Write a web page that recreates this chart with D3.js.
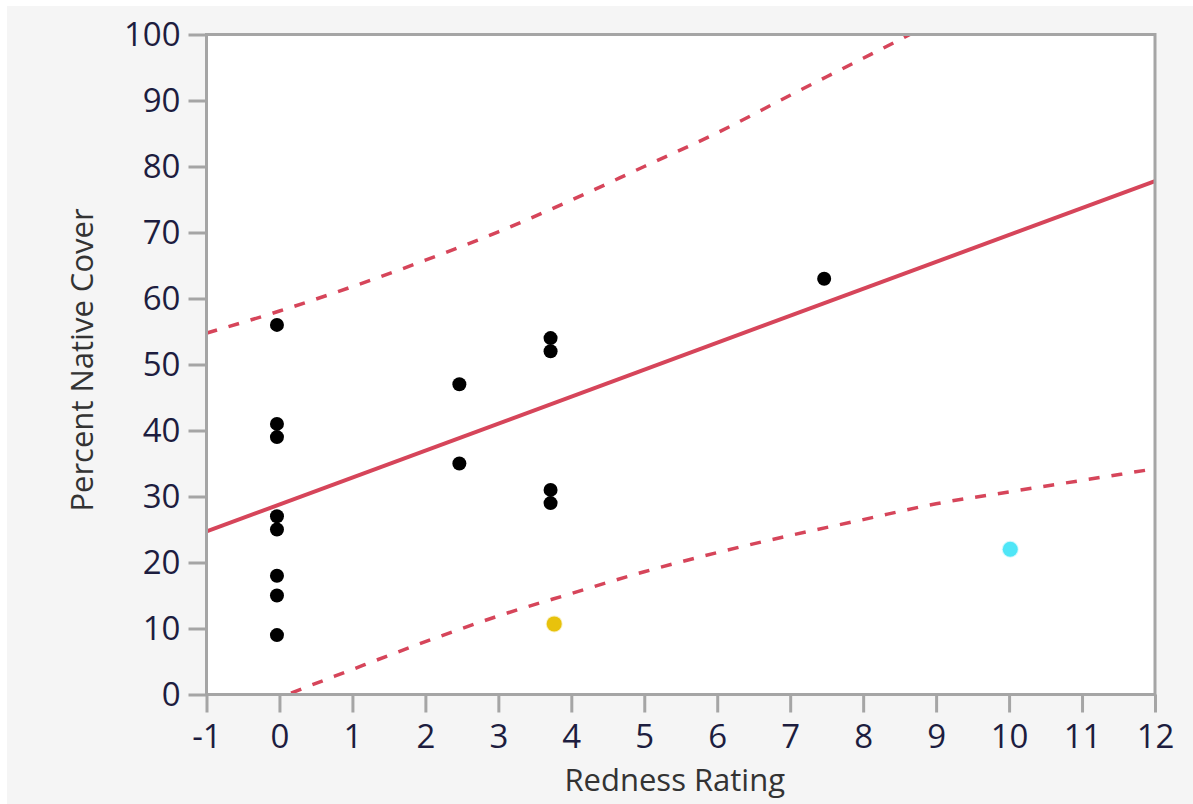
<!DOCTYPE html>
<html>
<head>
<meta charset="utf-8">
<script src="https://cdn.jsdelivr.net/npm/d3@7"></script>
<style>
  html, body { margin: 0; padding: 0; background: #ffffff; }
  text { font-family: "Open Sans", "Noto Sans", sans-serif; }
</style>
</head>
<body>
<div id="chart"></div>
<script>
// ---------- data ----------
var redness = [0, 0, 0, 0, 0, 0, 0, 0, 2.5, 2.5, 3.75, 3.75, 3.75, 3.75, 7.5];
var cover   = [56, 41, 39, 27, 25, 18, 15, 9, 47, 35, 54, 52, 31, 29, 63];

// the two highlighted rows
var hiRedness = [3.8, 10.05];
var hiCover   = [10.7, 22];
var hiColors  = ["#e8c20c", "#4fe6f7"];

// fitted line ends
var fitX = [-1, 12];
var fitY = [24.7, 77.8];

// prediction band, read at each whole x
var bandX     = [-1, 0, 1, 2, 3, 4, 5, 6, 7, 8, 9, 10, 11, 12];
var bandUpper = [54.75, 58.1, 61.8, 65.8, 70.1, 74.9, 80.0, 85.1, 90.8, 96.4, 102.1, 108.5, 114.9, 121.3];
var bandLower = [-5.3, -0.5, 3.8, 8.0, 11.9, 15.3, 18.6, 21.5, 24.1, 26.5, 28.9, 30.7, 32.45, 34.2];

var xTicks = d3.range(-1, 13, 1);
var yTicks = d3.range(0, 101, 10);

// ---------- canvas ----------
// (window.top is read-only, so the plot edges get their own names)
var width = 1193,
    height = 804,
    pLeft = 206.5,
    pRight = 1155,
    pTop = 34.5,
    pBottom = 694.5;

var svg = d3.select("#chart")
  .append("svg")
  .attr("width", width)
  .attr("height", height);

svg.append("rect")
  .attr("x", 7).attr("y", 6)
  .attr("width", width - 7).attr("height", height - 6)
  .attr("fill", "#f5f5f5");

var x = d3.scaleLinear().domain([-1, 12]).range([pLeft, pRight]);
var y = d3.scaleLinear().domain([0, 100]).range([pBottom, pTop]);

svg.append("rect")
  .attr("x", pLeft).attr("y", pTop)
  .attr("width", pRight - pLeft).attr("height", pBottom - pTop)
  .attr("fill", "#ffffff");

svg.append("clipPath").attr("id", "plotclip")
  .append("rect")
  .attr("x", pLeft).attr("y", pTop)
  .attr("width", pRight - pLeft).attr("height", pBottom - pTop);

var plot = svg.append("g").attr("clip-path", "url(#plotclip)");

// ---------- axes ----------
var yAxis = svg.append("g")
  .attr("transform", "translate(" + pLeft + ",0)")
  .call(d3.axisLeft(y).tickValues(yTicks).tickSize(18).tickPadding(8).tickFormat(d3.format("d")));

var xAxis = svg.append("g")
  .attr("transform", "translate(0," + pBottom + ")")
  .call(d3.axisBottom(x).tickValues(xTicks).tickSize(18).tickPadding(6).tickFormat(function(d){ return d < 0 ? "-" + Math.abs(d) : d; }));

[xAxis, yAxis].forEach(function(a){
  a.select(".domain").remove();
  a.selectAll(".tick line").attr("stroke", "#a5a5a5").attr("stroke-width", 3);
  a.selectAll(".tick text")
    .attr("fill", "#1d1d3f")
    .style("font-size", "33px")
    .style("font-family", "'Open Sans', sans-serif");
});
yAxis.selectAll(".tick text").attr("dy", "0.34em").attr("x", -26);
xAxis.selectAll(".tick text").attr("dy", "0.9em");

// frame
svg.append("rect")
  .attr("x", pLeft).attr("y", pTop)
  .attr("width", pRight - pLeft).attr("height", pBottom - pTop)
  .attr("fill", "none")
  .attr("stroke", "#a5a5a5")
  .attr("stroke-width", 3);

// axis titles
svg.append("text")
  .attr("x", (pLeft + pRight) / 2 - 6)
  .attr("y", 791)
  .attr("text-anchor", "middle")
  .attr("fill", "#333333")
  .style("font-size", "31px")
  .text("Redness Rating");

svg.append("text")
  .attr("transform", "translate(93," + 360 + ") rotate(-90)")
  .attr("text-anchor", "middle")
  .attr("fill", "#333333")
  .style("font-size", "31px")
  .text("Percent Native Cover");

// ---------- fit and band ----------
var red = "#d6455a";

var bandLine = d3.line()
  .x(function(d){ return x(d[0]); })
  .y(function(d){ return y(d[1]); })
  .curve(d3.curveMonotoneX);

plot.append("path")
  .datum(d3.zip(bandX, bandUpper))
  .attr("fill", "none")
  .attr("stroke", red)
  .attr("stroke-width", 3.5)
  .attr("stroke-dasharray", "11,12")
  .attr("d", bandLine);

plot.append("path")
  .datum(d3.zip(bandX, bandLower))
  .attr("fill", "none")
  .attr("stroke", red)
  .attr("stroke-width", 3.5)
  .attr("stroke-dasharray", "11,12")
  .attr("d", bandLine);

plot.append("path")
  .datum(d3.zip(fitX, fitY))
  .attr("fill", "none")
  .attr("stroke", red)
  .attr("stroke-width", 4)
  .attr("d", d3.line().x(function(d){ return x(d[0]); }).y(function(d){ return y(d[1]); }));

// ---------- points ----------
plot.selectAll("circle.pt")
  .data(d3.zip(redness, cover))
  .enter()
  .append("circle")
  .attr("class", "pt")
  .attr("cx", function(d){ return x(d[0]) - 2.5; })
  .attr("cy", function(d){ return y(d[1]); })
  .attr("r", 7)
  .attr("fill", "#000000");

plot.selectAll("circle.hi")
  .data(d3.zip(hiRedness, hiCover, hiColors))
  .enter()
  .append("circle")
  .attr("class", "hi")
  .attr("cx", function(d){ return x(d[0]) - 2.5; })
  .attr("cy", function(d){ return y(d[1]); })
  .attr("r", 7.5)
  .attr("fill", function(d){ return d[2]; })
  .attr("stroke", function(d){ return d[2]; })
  .attr("stroke-opacity", 0.25)
  .attr("stroke-width", 2);
</script>
</body>
</html>
